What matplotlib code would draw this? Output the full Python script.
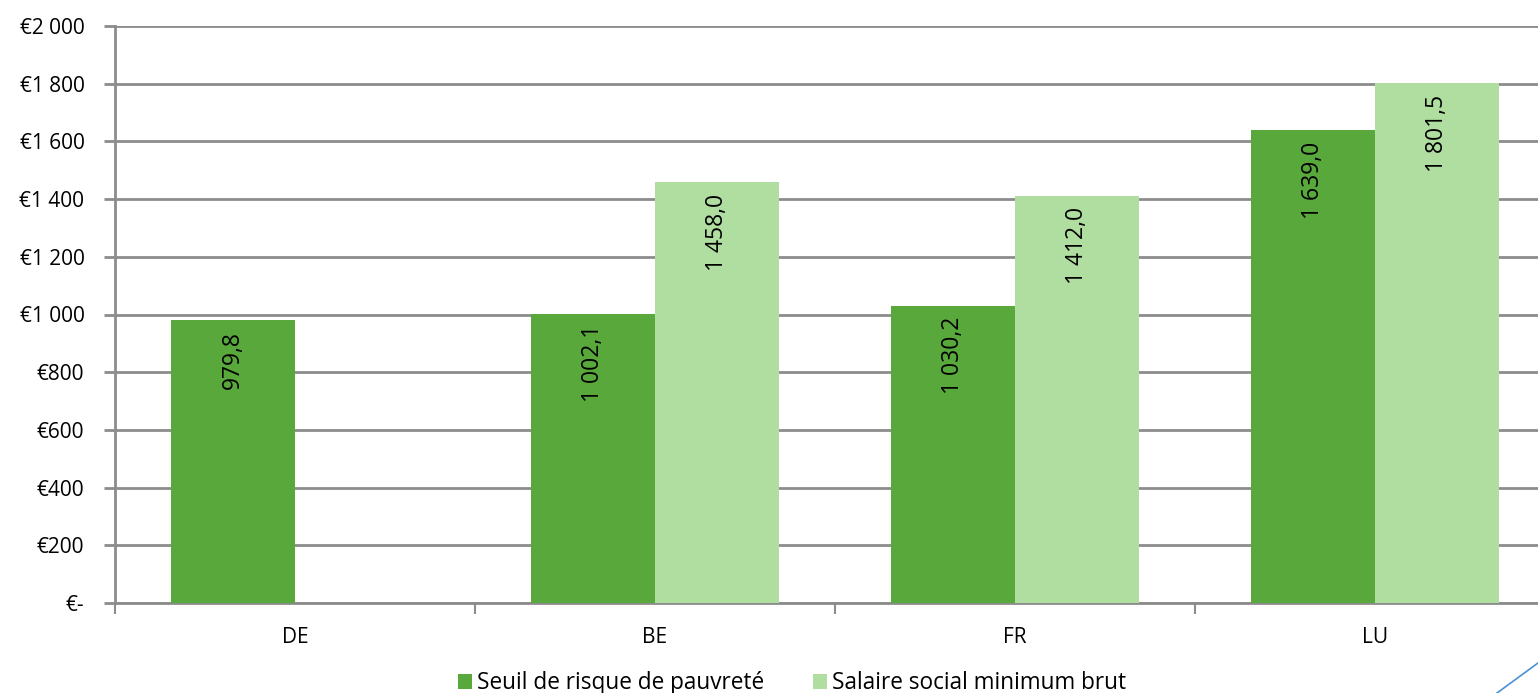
import matplotlib.pyplot as plt
import numpy as np
from matplotlib.lines import Line2D

plt.rcParams['font.family'] = ['Open Sans', 'DejaVu Sans']

pays = ["DE", "BE", "FR", "LU"]
seuil = [979.8, 1002.1, 1030.2, 1639.0]
salaire = [np.nan, 1458.0, 1412.0, 1801.5]
yticks = [0, 200, 400, 600, 800, 1000, 1200, 1400, 1600, 1800, 2000]

dark = "#59a83c"
light = "#b0dea0"
grey = "#8c8c8c"


def euro(v):
    if v == 0:
        return "€-"
    return "€" + "{:,.0f}".format(v).replace(",", " ")


def lab(v):
    return "{:,.1f}".format(v).replace(",", " ").replace(".", ",")


fig = plt.figure(figsize=(15.38, 6.93), dpi=100)
ax = fig.add_axes([115 / 1538, 1 - 603 / 693, 1440 / 1538, 577 / 693])

x = np.arange(len(pays))
w = 0.344
b1 = ax.bar(x - w / 2, seuil, w, color=dark, label="Seuil de risque de pauvreté", zorder=3)
b2 = ax.bar(x + w / 2, salaire, w, color=light, label="Salaire social minimum brut", zorder=3)

for bars, vals in [(b1, seuil), (b2, salaire)]:
    for r, v in zip(bars, vals):
        if np.isnan(v):
            continue
        ax.annotate(lab(v), (r.get_x() + r.get_width() / 2, v), xytext=(0, -8),
                    textcoords="offset points", rotation=90, ha="center", va="top",
                    fontsize=16.5, zorder=4)

ax.set_xlim(-0.5, 3.5)
ax.set_ylim(0, 2000)
ax.set_yticks(yticks)
ax.set_yticklabels([euro(v) for v in yticks], fontsize=15)
ax.yaxis.grid(True, color=grey, linewidth=2, zorder=1)
ax.set_xticks(x)
ax.set_xticklabels(pays, fontsize=15)
ax.set_xticks(np.arange(-0.5, 3.6, 1), minor=True)
ax.tick_params(axis="x", which="major", length=0, pad=17)
ax.tick_params(axis="x", which="minor", length=8, width=1.5, color=grey, direction="out")
ax.tick_params(axis="y", length=8, width=2, color=grey, pad=14)
for s in ["top", "right"]:
    ax.spines[s].set_visible(False)
for s in ["left", "bottom"]:
    ax.spines[s].set_color(grey)
    ax.spines[s].set_linewidth(2)

fig.legend(loc="lower center", bbox_to_anchor=(0.515, -0.01), ncol=2, frameon=False,
           fontsize=16.3, handlelength=0.6, handleheight=0.6, handletextpad=0.2,
           columnspacing=2.2, borderaxespad=0.1, borderpad=0.1)

fig.add_artist(Line2D([1497 / 1538, 1.0], [0, 30 / 693], color="#4a90d9", linewidth=1.2,
                      transform=fig.transFigure))

fig.savefig("out.png", dpi=100)
